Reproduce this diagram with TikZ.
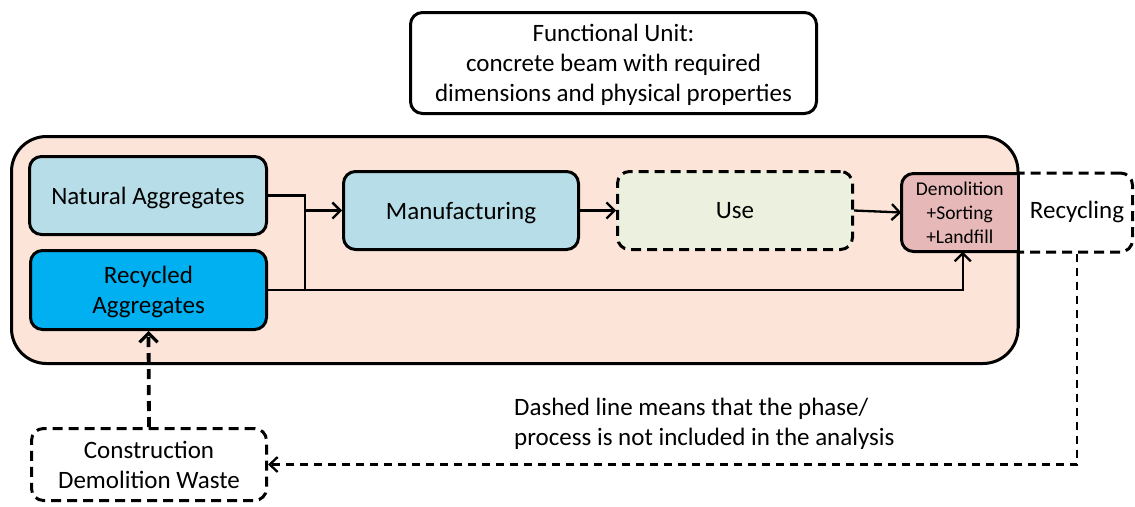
\documentclass[tikz,border=0pt]{standalone}
\usepackage{fontspec}
\setmainfont{Carlito}
\usetikzlibrary{arrows.meta,calc}
\definecolor{peach}{HTML}{FCE5D8}
\definecolor{lblue}{HTML}{B7DEE8}
\definecolor{cyanb}{HTML}{00B0F0}
\definecolor{usegreen}{HTML}{EBF1DE}
\definecolor{pinkr}{HTML}{E6B9B8}
\begin{document}
\begin{tikzpicture}[x=1pt,y=-1pt,
  box/.style={draw, line width=3pt, rounded corners=12pt, align=center, inner sep=0pt,
    text depth=0pt, font=\fontsize{25}{30}\selectfont},
  dbox/.style={box, dash pattern=on 10pt off 6pt},
  conn/.style={line width=2.3pt, -{Straight Barb[length=8pt,width=16pt,line width=2.3pt]}},
  plain/.style={line width=2.3pt},
  txt/.style={font=\fontsize{25}{30}\selectfont, inner sep=0pt},
]
\useasboundingbox (0,0) rectangle (1135,506);
% recycling box (behind system boundary)
\node (recbox) [dbox, fill=white, minimum width=231pt, minimum height=79pt] at (1017,212.5) {};
% system boundary
\draw[line width=3pt, fill=peach, rounded corners=35pt] (11.5,136.5) rectangle (1018,363.5);
% functional unit
\node (fu) [box, fill=white, minimum width=406pt, minimum height=101pt, text depth=-3pt] at (613.5,63)
  {Functional Unit:\\concrete beam with required\\dimensions and physical properties};
\node (nat) [box, fill=lblue, minimum width=237pt, minimum height=78pt] at (148,195.5) {Natural Aggregates};
\node (recag) [box, fill=cyanb, minimum width=236pt, minimum height=79pt] at (148.5,290) {Recycled\\Aggregates};
\node (man) [box, fill=lblue, minimum width=235pt, minimum height=78pt] at (461,210.5) {Manufacturing};
\node (use) [dbox, fill=usegreen, minimum width=235pt, minimum height=78pt] at (735,210.5) {Use};
% demolition box
\coordinate (demNW) at (901.5,173.5);
\coordinate (demSE) at (1018,251.5);
\draw[line width=3pt, fill=pinkr, rounded corners=12pt] (demSE |- demNW) -- (demNW) -- (demNW |- demSE) -- (demSE);
\draw[line width=3pt] (1018,172) -- (1018,328);
\node (dem) [align=center, inner sep=0pt, minimum width=116.5pt, minimum height=78pt, text depth=-1pt,
  font=\fontsize{19.5}{24}\selectfont] at ($(demNW)!0.5!(demSE)$) {Demolition\\+Sorting\\+Landfill};
\node (reclabel) [txt] at (1077,212) {Recycling};
% construction demolition waste
\node (cdw) [dbox, fill=white, minimum width=235pt, minimum height=72pt, text depth=-2pt] at (149,464.5) {Construction\\Demolition Waste};
% note
\node (note) [txt, align=left, anchor=base west] at (514,445) {Dashed line means that the phase/\\process is not included in the analysis};
% connectors
\coordinate (jx) at (305,210.5);
\draw[plain] (nat.east) -| (jx |- recag.east);
\draw[conn] (recag.east) -| ($(dem.south)+(3,0)$);
\draw[conn] (jx |- man.west) -- (man.west);
\draw[conn] (man.east) -- (use.west);
\draw[conn] (use.east) -- (dem.west);
\draw[line width=3.8pt, dash pattern=on 10pt off 6pt, -{Straight Barb[length=9pt,width=18pt,line width=3.2pt]}] (cdw.north) -- (recag.south);
\draw[line width=2.3pt, dash pattern=on 8pt off 6pt, -{Straight Barb[length=8pt,width=15pt,line width=2.3pt]}] (reclabel |- recbox.south) |- (cdw.east);
\end{tikzpicture}
\end{document}
